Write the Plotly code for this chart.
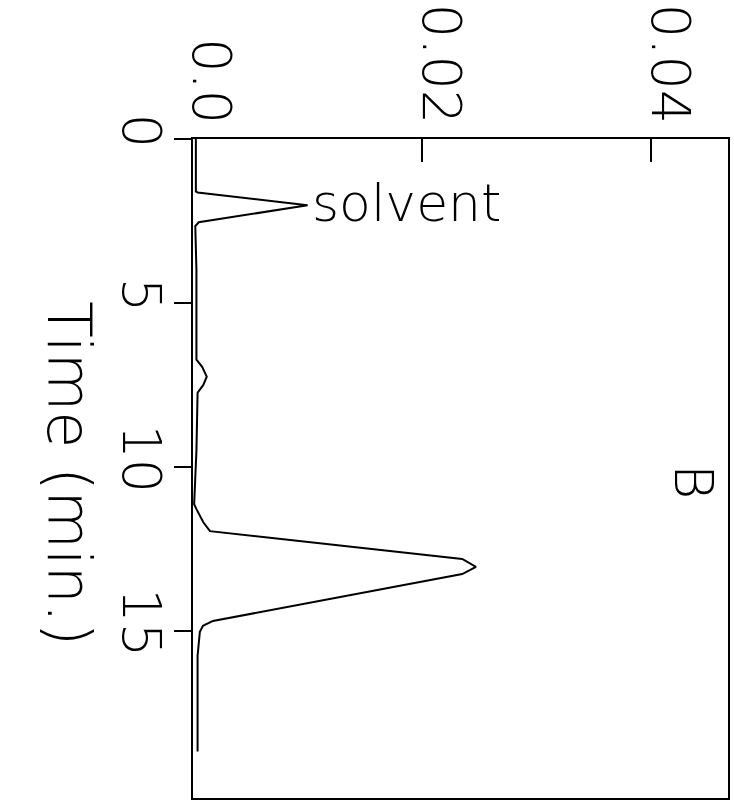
import plotly.graph_objects as go

# Chromatogram B: retention time (min) vs. detector absorbance
time_min = [0.0, 1.60, 1.63, 2.02, 2.54, 2.66, 4.0, 6.73, 6.95, 7.25, 7.50, 7.74,
            9.5, 11.14, 11.29, 11.69, 11.96, 12.81, 13.05, 13.27, 14.70, 14.85,
            15.03, 15.76, 17.0, 18.68]
absorbance = [0.00025, 0.00025, 0.0004, 0.0100, 0.0005, 0.0002, 0.0003, 0.0003,
              0.0008, 0.0012, 0.0009, 0.0004, 0.0003, 0.0001, 0.0003, 0.0009,
              0.00148, 0.0235, 0.0247, 0.0235, 0.00174, 0.00087, 0.0006, 0.0004,
              0.0004, 0.0004]

abs_ticks = [0.0, 0.02, 0.04]
abs_tick_text = ["0.0", "0.02", "0.04"]
time_ticks = [0, 5, 10, 15]
time_tick_text = ["0", "5", "10", "15"]

abs_range = [0.0, 0.0467]
time_range = [20.1, 0.0]

peak_label = "solvent"
panel_label = "B"
time_title = "Time (min.)"

FONT = "DejaVu Sans"
FS = 54
WEIGHT = 200  # thin strokes, plotter-style lettering


def font(size=FS):
    return dict(size=size, family=FONT, color="black", weight=WEIGHT)


fig = go.Figure()
fig.add_trace(go.Scatter(
    x=absorbance, y=time_min, mode="lines",
    line=dict(color="black", width=2), hoverinfo="skip", showlegend=False,
))

fig.update_layout(
    width=734, height=804,
    margin=dict(l=193, r=4, t=139, b=5),
    paper_bgcolor="white", plot_bgcolor="white",
    font=font(),
    xaxis=dict(
        side="top", range=abs_range, tickvals=abs_ticks, ticktext=abs_tick_text,
        tickangle=90, ticks="inside", ticklen=23, tickwidth=2, tickcolor="black",
        ticklabelshift=18, ticklabelstandoff=-6,
        showline=True, linecolor="black", linewidth=2, mirror=True,
        showgrid=False, zeroline=False, tickfont=font(),
    ),
    yaxis=dict(
        range=time_range, tickvals=time_ticks, ticktext=time_tick_text,
        tickangle=90, ticks="outside", ticklen=17, tickwidth=2, tickcolor="black",
        ticklabelstandoff=-14,
        showline=True, linecolor="black", linewidth=2, mirror=True,
        showgrid=False, zeroline=False, tickfont=font(),
    ),
)

# peak label beside the solvent peak apex
fig.add_annotation(x=absorbance[3], y=time_min[3], text=peak_label,
                   xanchor="left", yanchor="middle", xshift=2, yshift=2,
                   showarrow=False, font=font(52))
fig.add_annotation(x=0.0437, y=10.45, text=panel_label, textangle=90,
                   showarrow=False, font=font())
fig.add_annotation(xref="paper", yref="paper", x=-0.30, y=0.492, text=time_title,
                   textangle=90, showarrow=False, font=font(60))

fig.write_html("out.html")
